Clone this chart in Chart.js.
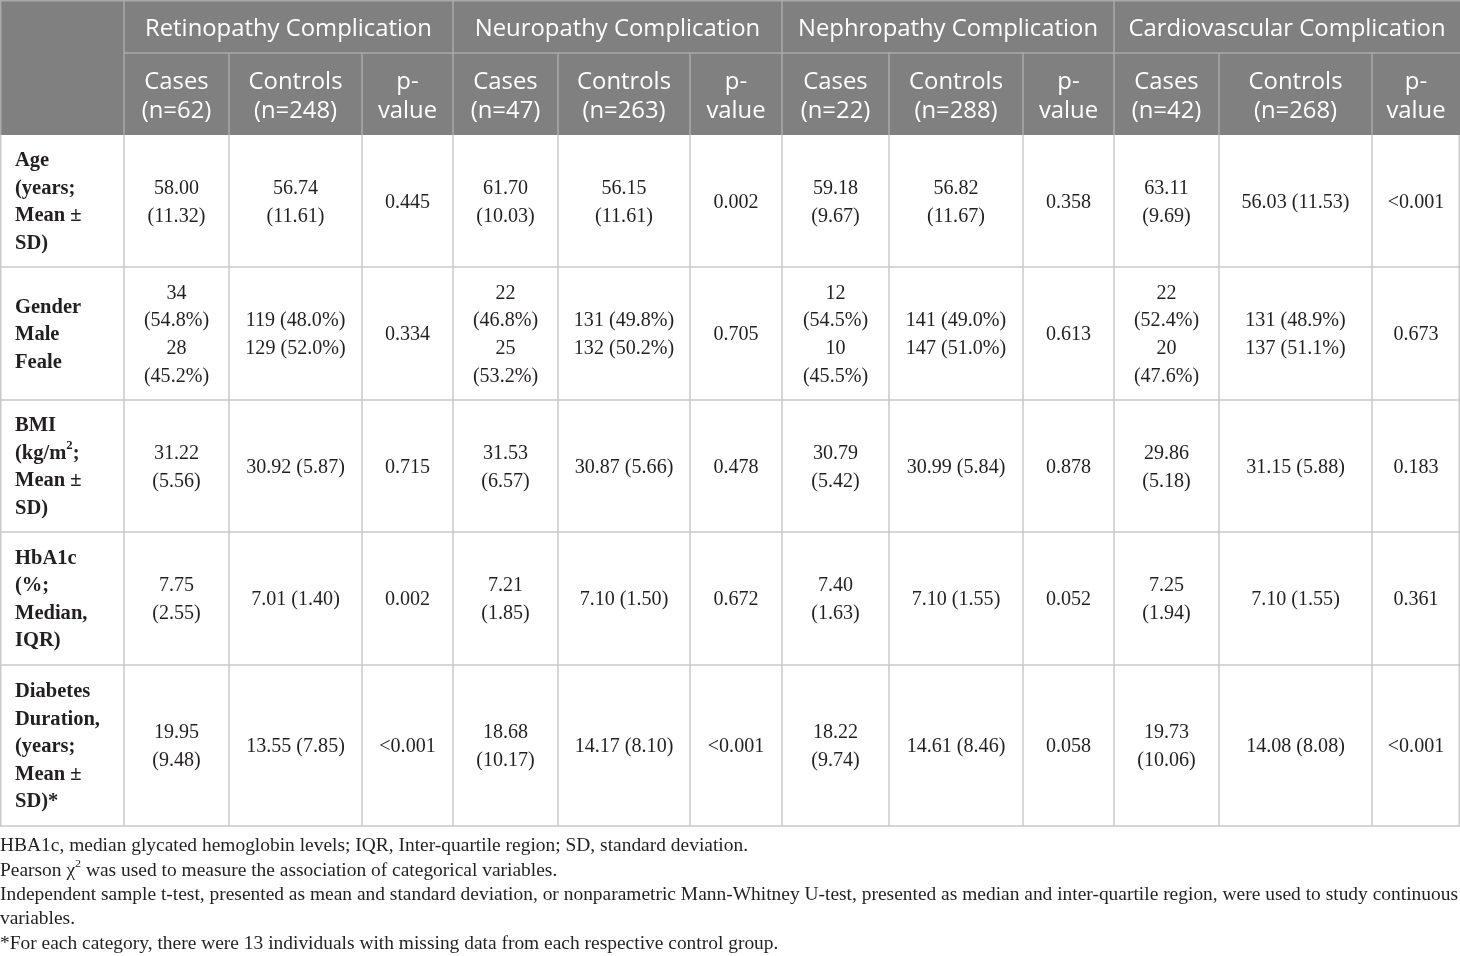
<!DOCTYPE html>
<html>
<head>
<meta charset="utf-8">
<script src="https://cdn.jsdelivr.net/npm/chart.js@4.4.1/dist/chart.umd.min.js"></script>
<style>
  html, body { margin: 0; padding: 0; background: #ffffff; }
  canvas { display: block; }
</style>
</head>
<body>
<canvas id="table" width="1460" height="956"></canvas>
<script>
// Table content
const groups = ['Retinopathy Complication', 'Neuropathy Complication', 'Nephropathy Complication', 'Cardiovascular Complication'];
const casesN = [62, 47, 22, 42];
const controlsN = [248, 263, 288, 268];

const rowLabels = [
    ['Age', '(years;', 'Mean \u00b1', 'SD)'],
    ['Gender', 'Male', 'Feale'],
    ['BMI', '(kg/m^2;', 'Mean \u00b1', 'SD)'],
    ['HbA1c', '(%;', 'Median,', 'IQR)'],
    ['Diabetes', 'Duration,', '(years;', 'Mean \u00b1', 'SD)*']
];

const ageCells = [['58.00', '(11.32)'], ['56.74', '(11.61)'], ['0.445'], ['61.70', '(10.03)'], ['56.15', '(11.61)'], ['0.002'],
    ['59.18', '(9.67)'], ['56.82', '(11.67)'], ['0.358'], ['63.11', '(9.69)'], ['56.03 (11.53)'], ['<0.001']];
const genderCells = [['34', '(54.8%)', '28', '(45.2%)'], ['119 (48.0%)', '129 (52.0%)'], ['0.334'],
    ['22', '(46.8%)', '25', '(53.2%)'], ['131 (49.8%)', '132 (50.2%)'], ['0.705'],
    ['12', '(54.5%)', '10', '(45.5%)'], ['141 (49.0%)', '147 (51.0%)'], ['0.613'],
    ['22', '(52.4%)', '20', '(47.6%)'], ['131 (48.9%)', '137 (51.1%)'], ['0.673']];
const bmiCells = [['31.22', '(5.56)'], ['30.92 (5.87)'], ['0.715'], ['31.53', '(6.57)'], ['30.87 (5.66)'], ['0.478'],
    ['30.79', '(5.42)'], ['30.99 (5.84)'], ['0.878'], ['29.86', '(5.18)'], ['31.15 (5.88)'], ['0.183']];
const hba1cCells = [['7.75', '(2.55)'], ['7.01 (1.40)'], ['0.002'], ['7.21', '(1.85)'], ['7.10 (1.50)'], ['0.672'],
    ['7.40', '(1.63)'], ['7.10 (1.55)'], ['0.052'], ['7.25', '(1.94)'], ['7.10 (1.55)'], ['0.361']];
const durationCells = [['19.95', '(9.48)'], ['13.55 (7.85)'], ['<0.001'], ['18.68', '(10.17)'], ['14.17 (8.10)'], ['<0.001'],
    ['18.22', '(9.74)'], ['14.61 (8.46)'], ['0.058'], ['19.73', '(10.06)'], ['14.08 (8.08)'], ['<0.001']];

const footnotes = [
    'HBA1c, median glycated hemoglobin levels; IQR, Inter-quartile region; SD, standard deviation.',
    'Pearson \u03c7^2 was used to measure the association of categorical variables.',
    'Independent sample t-test, presented as mean and standard deviation, or nonparametric Mann-Whitney U-test, presented as median and inter-quartile region, were used to study continuous',
    'variables.',
    '*For each category, there were 13 individuals with missing data from each respective control group.'
];

// Layout (in scale units, which map 1:1 to the canvas)
const colEdges = [0, 124, 229, 362, 453, 558, 690, 782, 889, 1023, 1114, 1219, 1372, 1460];
const rowEdges = [0, 53, 135, 267, 400, 532, 665, 826];
const footTop = 846.5;
const footStep = 24.4;

const headFont = { family: '"Open Sans", "Liberation Sans", sans-serif', size: 23, weight: 'normal' };
const bodyFont = { family: '"Liberation Serif", "DejaVu Serif", serif', size: 20, weight: 'normal' };
const labelFont = { family: '"Liberation Serif", "DejaVu Serif", serif', size: 20, weight: 'bold' };
const footFont = { family: '"Liberation Serif", "DejaVu Serif", serif', size: 18, weight: 'normal' };

function fontStr(f, size) {
    return f.weight + ' ' + (size || f.size) + 'px ' + f.family;
}

// text with optional ^x superscripts, horizontally scaled by sx
function textWidth(ctx, str, f) {
    let w = 0;
    str.split(/(\^\S)/).filter(Boolean).forEach(function(p) {
        if (p[0] === '^') {
            ctx.font = fontStr(f, f.size * 0.62);
            w += ctx.measureText(p.slice(1)).width;
        } else {
            ctx.font = fontStr(f);
            w += ctx.measureText(p).width;
        }
    });
    return w;
}

function drawText(ctx, str, x, y, f, align, sx, color) {
    const total = textWidth(ctx, str, f) * sx;
    let cx = align === 'center' ? x - total / 2 : x;
    ctx.fillStyle = color;
    ctx.textBaseline = 'middle';
    ctx.textAlign = 'left';
    str.split(/(\^\S)/).filter(Boolean).forEach(function(p) {
        const sup = p[0] === '^';
        const t = sup ? p.slice(1) : p;
        ctx.font = sup ? fontStr(f, f.size * 0.62) : fontStr(f);
        const w = ctx.measureText(t).width;
        ctx.save();
        ctx.translate(cx, sup ? y - f.size * 0.38 : y);
        ctx.scale(sx, 1);
        ctx.fillText(t, 0, 0);
        ctx.restore();
        cx += w * sx;
    });
}

const tablePlugin = {
    id: 'tablePlugin',
    afterDraw: function(chart) {
        const ctx = chart.ctx;
        const xs = chart.scales.x;
        const ys = chart.scales.y;
        const X = function(v) { return xs.getPixelForValue(v); };
        const Y = function(v) { return ys.getPixelForValue(v); };
        const bodyRows = [ageCells, genderCells, bmiCells, hba1cCells, durationCells];

        // horizontal scale factors so text widths match the print fonts
        const headSx = 287 / textWidth(ctx, 'Retinopathy Complication', headFont);
        const bodySx = 108 / textWidth(ctx, '56.03 (11.53)', bodyFont);
        const labelSx = 85 / textWidth(ctx, 'Duration,', labelFont);
        const footSx = 1458 / textWidth(ctx, footnotes[2], footFont);

        ctx.save();
        // header background
        ctx.fillStyle = '#808080';
        ctx.fillRect(X(colEdges[0]), Y(rowEdges[0]), X(colEdges[colEdges.length - 1]) - X(colEdges[0]), Y(rowEdges[2]) - Y(rowEdges[0]));

        // header grid lines
        ctx.strokeStyle = '#a9a9a9';
        ctx.lineWidth = 1.5;
        ctx.beginPath();
        ctx.moveTo(X(colEdges[1]), Y(rowEdges[1]));
        ctx.lineTo(X(colEdges[colEdges.length - 1]), Y(rowEdges[1]));
        for (let c = 1; c < colEdges.length - 1; c++) {
            const groupEdge = (c - 1) % 3 === 0;
            ctx.moveTo(X(colEdges[c]), Y(groupEdge ? rowEdges[0] : rowEdges[1]));
            ctx.lineTo(X(colEdges[c]), Y(rowEdges[2]));
        }
        ctx.moveTo(X(colEdges[0]) + 0.75, Y(rowEdges[0]));
        ctx.lineTo(X(colEdges[0]) + 0.75, Y(rowEdges[2]));
        ctx.moveTo(X(colEdges[0]), Y(rowEdges[0]) + 0.75);
        ctx.lineTo(X(colEdges[colEdges.length - 1]), Y(rowEdges[0]) + 0.75);
        ctx.stroke();

        // body grid lines
        ctx.strokeStyle = '#c9c9c9';
        ctx.beginPath();
        for (let r = 3; r < rowEdges.length; r++) {
            ctx.moveTo(X(colEdges[0]), Y(rowEdges[r]));
            ctx.lineTo(X(colEdges[colEdges.length - 1]), Y(rowEdges[r]));
        }
        for (let c = 0; c < colEdges.length; c++) {
            let xv = X(colEdges[c]);
            if (c === 0) xv += 0.75;
            if (c === colEdges.length - 1) xv -= 0.75;
            ctx.moveTo(xv, Y(rowEdges[2]));
            ctx.lineTo(xv, Y(rowEdges[rowEdges.length - 1]));
        }
        ctx.stroke();

        // header texts
        groups.forEach(function(g, i) {
            const x0 = colEdges[1 + i * 3], x1 = colEdges[4 + i * 3];
            drawText(ctx, g, X((x0 + x1) / 2), Y((rowEdges[0] + rowEdges[1]) / 2) + 3, headFont, 'center', headSx, '#ffffff');
            const subs = [['Cases', '(n=' + casesN[i] + ')'], ['Controls', '(n=' + controlsN[i] + ')'], ['p-', 'value']];
            subs.forEach(function(lines, k) {
                const c = 1 + i * 3 + k;
                const cx = X((colEdges[c] + colEdges[c + 1]) / 2);
                const cy = Y((rowEdges[1] + rowEdges[2]) / 2);
                lines.forEach(function(t, li) {
                    drawText(ctx, t, cx, cy + (li - (lines.length - 1) / 2) * 29 + 3, headFont, 'center', headSx, '#ffffff');
                });
            });
        });

        // body texts
        bodyRows.forEach(function(cells, r) {
            const cy = Y((rowEdges[r + 2] + rowEdges[r + 3]) / 2) + 1.5;
            const lab = rowLabels[r];
            lab.forEach(function(t, li) {
                drawText(ctx, t, X(colEdges[0] + 15), cy + (li - (lab.length - 1) / 2) * 27.5, labelFont, 'left', labelSx, '#231f20');
            });
            cells.forEach(function(lines, k) {
                const cx = X((colEdges[k + 1] + colEdges[k + 2]) / 2);
                lines.forEach(function(t, li) {
                    drawText(ctx, t, cx, cy + (li - (lines.length - 1) / 2) * 27.7, bodyFont, 'center', bodySx, '#231f20');
                });
            });
        });

        // footnotes
        footnotes.forEach(function(t, i) {
            drawText(ctx, t, X(0), Y(footTop + i * footStep), footFont, 'left', footSx, '#231f20');
        });
        ctx.restore();
    }
};

new Chart(document.getElementById('table'), {
    type: 'scatter',
    data: { datasets: [] },
    options: {
        responsive: false,
        animation: false,
        events: [],
        layout: { padding: 0 },
        plugins: { legend: { display: false }, tooltip: { enabled: false } },
        scales: {
            x: { type: 'linear', min: 0, max: 1460, display: false },
            y: { type: 'linear', min: 0, max: 956, reverse: true, display: false }
        }
    },
    plugins: [tablePlugin]
});
</script>
</body>
</html>
